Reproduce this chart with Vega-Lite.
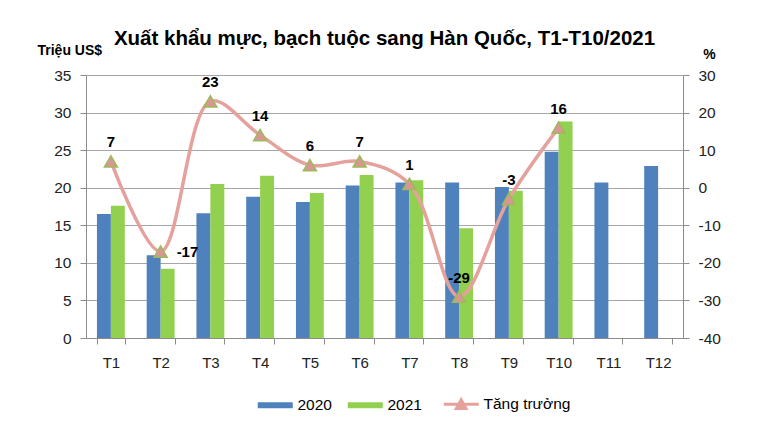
{
  "$schema": "https://vega.github.io/schema/vega-lite/v6.json",
  "width": 597,
  "height": 263,
  "autosize": {"type": "none"},
  "padding": {"left": 86, "top": 75, "right": 82, "bottom": 87},
  "background": "white",
  "config": {"font": "Liberation Sans", "view": {"stroke": null}},
  "title": {
    "text": "Xuất khẩu mực, bạch tuộc sang Hàn Quốc, T1-T10/2021",
    "fontSize": 20.5,
    "fontWeight": "bold",
    "font": "Liberation Sans",
    "color": "black",
    "anchor": "middle",
    "frame": "group",
    "offset": -6
  },
  "data": {
    "values": [
      {"month": "T1", "2020": 16.5, "2021": 17.6, "growth": 7},
      {"month": "T2", "2020": 11.0, "2021": 9.2, "growth": -17},
      {"month": "T3", "2020": 16.6, "2021": 20.5, "growth": 23},
      {"month": "T4", "2020": 18.8, "2021": 21.6, "growth": 14},
      {"month": "T5", "2020": 18.1, "2021": 19.3, "growth": 6},
      {"month": "T6", "2020": 20.3, "2021": 21.7, "growth": 7},
      {"month": "T7", "2020": 20.7, "2021": 21.0, "growth": 1},
      {"month": "T8", "2020": 20.7, "2021": 14.6, "growth": -29},
      {"month": "T9", "2020": 20.1, "2021": 19.6, "growth": -3},
      {"month": "T10", "2020": 24.8, "2021": 28.8, "growth": 16},
      {"month": "T11", "2020": 20.7, "2021": null, "growth": null},
      {"month": "T12", "2020": 22.9, "2021": null, "growth": null}
    ]
  },
  "encoding": {
    "x": {
      "field": "month",
      "type": "nominal",
      "sort": null,
      "scale": {
        "domain": ["T1","T2","T3","T4","T5","T6","T7","T8","T9","T10","T11","T12"],
        "paddingInner": 0.44,
        "paddingOuter": 0.22
      },
      "axis": {
        "title": null,
        "labelAngle": 0,
        "labelFontSize": 15,
        "labelColor": "#222222",
        "labelPadding": 11,
        "tickBand": "extent",
        "tickSize": 6,
        "tickColor": "#8C8C8C",
        "domainColor": "#8C8C8C",
        "grid": false
      }
    }
  },
  "layer": [
    {
      "transform": [
        {"fold": ["2020", "2021"], "as": ["series", "value"]},
        {"filter": "datum.value != null"}
      ],
      "mark": {"type": "bar"},
      "encoding": {
        "xOffset": {"field": "series", "type": "nominal"},
        "y": {
          "field": "value",
          "type": "quantitative",
          "scale": {"domain": [0, 35], "nice": false},
          "axis": {
            "title": "Triệu US$",
            "titleAngle": 0,
            "titleAlign": "left",
            "titleBaseline": "alphabetic",
            "titleX": -49,
            "titleY": -21,
            "titleFontSize": 14,
            "titleFontWeight": "bold",
            "titleColor": "black",
            "values": [0, 5, 10, 15, 20, 25, 30, 35],
            "grid": true,
            "gridColor": "#A6A6A6",
            "domainColor": "#8C8C8C",
            "tickColor": "#8C8C8C",
            "tickSize": 6,
            "labelFontSize": 15.5,
            "labelColor": "#222222",
            "labelPadding": 9
          }
        },
        "color": {
          "field": "series",
          "type": "nominal",
          "scale": {
            "domain": ["2020", "2021", "Tăng trưởng"],
            "range": ["#4F81BD", "#92D050", "#E5A19C"]
          },
          "legend": {
            "title": null,
            "orient": "none",
            "direction": "horizontal",
            "legendX": 184,
            "legendY": 321,
            "labelFontSize": 15.5,
            "labelColor": "black",
            "labelOffset": 12,
            "columnPadding": 15,
            "symbolSize": 1600,
            "symbolType": "M-1,-0.15H0.75V0.15H-1Z",
            "symbolStrokeWidth": 0,
            "encode": {
              "symbols": {
                "update": {
                  "shape": {"signal": "datum.value === 'Tăng trưởng' ? 'M-1,0H0.75M-0.37,0.22L-0.13,-0.22L0.11,0.22Z' : 'M-1,-0.15H0.75V0.15H-1Z'"},
                  "strokeWidth": {"signal": "datum.value === 'Tăng trưởng' ? 3 : 0"},
                  "stroke": {"signal": "datum.value === 'Tăng trưởng' ? '#E5A19C' : null"}
                }
              }
            }
          }
        }
      }
    },
    {
      "transform": [{"filter": "datum.growth != null"}],
      "encoding": {
        "y": {
          "field": "growth",
          "type": "quantitative",
          "scale": {"domain": [-40, 30], "nice": false},
          "axis": {
            "orient": "right",
            "title": "%",
            "titleAngle": 0,
            "titleAlign": "center",
            "titleBaseline": "alphabetic",
            "titleX": 26,
            "titleY": -17,
            "titleFontSize": 14,
            "titleFontWeight": "bold",
            "titleColor": "black",
            "values": [-40, -30, -20, -10, 0, 10, 20, 30],
            "labelExpr": "'' + datum.value",
            "grid": false,
            "domainColor": "#8C8C8C",
            "tickColor": "#8C8C8C",
            "tickSize": 6,
            "labelFontSize": 15.5,
            "labelColor": "#222222",
            "labelPadding": 9
          }
        }
      },
      "layer": [
        {
          "mark": {"type": "line", "interpolate": "catmull-rom", "strokeWidth": 3.5},
          "encoding": {"color": {"datum": "Tăng trưởng"}}
        },
        {
          "mark": {"type": "point", "shape": "triangle-up", "size": 170, "filled": true, "fill": "#D99694", "stroke": "#9BBB59", "strokeWidth": 1.5, "opacity": 1}
        },
        {
          "transform": [{"filter": "datum.month != 'T2'"}],
          "mark": {"type": "text", "dy": -19, "fontSize": 15, "fontWeight": "bold", "color": "black"},
          "encoding": {"text": {"field": "growth", "type": "nominal"}}
        },
        {
          "transform": [{"filter": "datum.month == 'T2'"}],
          "mark": {"type": "text", "dx": 16, "align": "left", "fontSize": 15, "fontWeight": "bold", "color": "black"},
          "encoding": {"text": {"field": "growth", "type": "nominal"}}
        }
      ]
    }
  ],
  "resolve": {"scale": {"y": "independent"}}
}
